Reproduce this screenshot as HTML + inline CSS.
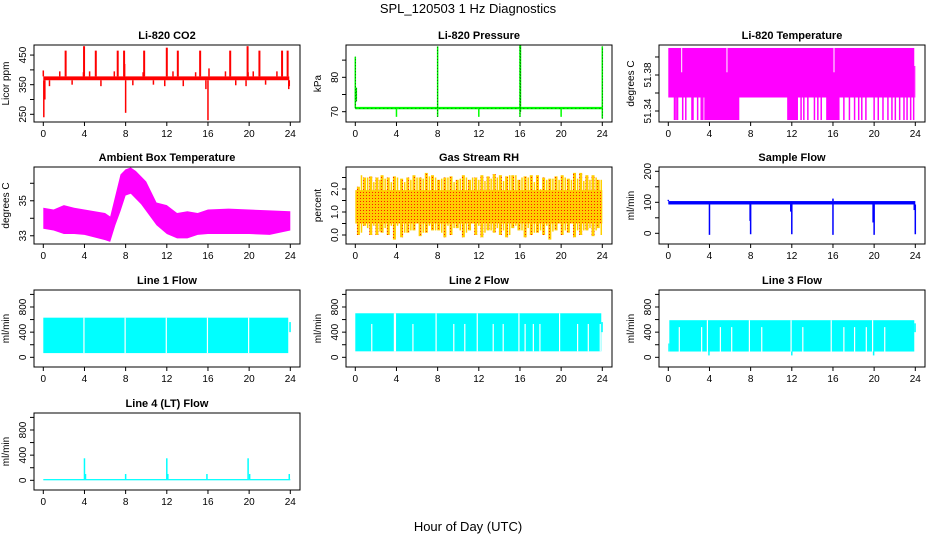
<!DOCTYPE html>
<html><head><meta charset="utf-8"><style>
body{margin:0;background:#fff}
svg text{font-family:"Liberation Sans",sans-serif;fill:#000}
</style></head><body>
<svg id="chart" width="936" height="540" viewBox="0 0 936 540" xmlns="http://www.w3.org/2000/svg">
<defs>
<pattern id="rhpat" width="3" height="3" patternUnits="userSpaceOnUse"><rect width="3" height="3" fill="#ffcc00"/><rect width="1" height="1" fill="#ff2000"/></pattern>
</defs>
<text x="468" y="13" font-size="13" text-anchor="middle">SPL_120503  1 Hz Diagnostics</text>
<text x="468" y="531" font-size="13" text-anchor="middle">Hour of Day (UTC)</text>
</svg>
<script>
// ---------- data ----------
const xTicks = [0,4,8,12,16,20,24];
// CO2
const co2BaseLo = 365, co2BaseHi = 378;
const co2UpHours = [2.17,3.96,5.1,7.23,7.85,9.8,12.0,13.07,15.24,18.16,19.85,21.0,23.2,23.74];
const co2UpVals  = [465,480,465,465,465,465,475,465,465,465,480,465,465,465];
const co2DownHours = [0.05,8.0,16.0,15.8,0.15];
const co2DownVals  = [240,255,230,335,300];
const co2SmallUpHours = [1.6,3.9,4.5,6.9,9.7,12.6,14.8,17.7,19.9,20.4,22.7,0.0,7.9,16.1];
const co2SmallUpVals = [395,392,395,395,392,395,392,395,392,395,395,398,420,405];
const co2SmallDnHours = [0.6,2.8,5.6,8.7,10.7,11.8,13.6,18.7,19.7,21.6,23.9,23.85];
const co2SmallDnVals = [345,350,345,348,350,345,345,348,345,350,345,335];
// Pressure
const presBase = 71;
const presSpikeHours = [0.0,0.1,8.0,16.0,16.05,24.0];
const presSpikeLo = [71,73,68.5,68.5,70,68];
const presSpikeHi = [86,77,89,89.5,89.5,89];
const presDipHours = [4.0,12.0,20.0];
const presDipVals = [68.5,68.5,68.5];
// Li-820 temperature
const ltBandLo = 51.355, ltBandHi = 51.41, ltFloor = 51.33;
const ltBlockStart = [3.5,15.34,11.55];
const ltBlockEnd = [6.9,16.64,12.6];
const ltBarHours = [0.6,0.75,0.9,1.4,1.7,2.3,2.4,2.85,3.2,3.35,12.9,13.17,13.56,14.2,14.53,14.86,17.06,17.6,18.1,18.5,18.8,19.2,20.0,20.4,20.86,21.34,21.73,22.06,22.48,22.9,23.2,23.55,23.84];
const ltGapHours = [1.3,5.7,16.1];
// Ambient box temperature
const ambHours = [0,1,2,3,4,5,6,6.5,7,7.5,8,8.5,9,9.5,10,10.5,11,12,13,14,15,16,18,20,22,24];
const ambHi = [34.6,34.5,34.75,34.6,34.5,34.4,34.3,34.1,35.3,36.5,36.8,36.9,36.7,36.4,36.1,35.5,34.9,34.75,34.3,34.4,34.3,34.5,34.55,34.5,34.45,34.4];
const ambLo = [33.4,33.3,33.1,33.1,33.05,32.9,32.75,32.65,33.6,34.4,35.3,35.4,35.1,34.8,34.4,34.0,33.6,33.1,32.85,32.85,33.05,33.1,33.1,33.1,33.05,33.3];
// Gas stream RH
const rhCoreLo = 0.5, rhCoreHi = 1.95;
const rhSpikeHours = [0.3,0.9,1.5,2.1,2.6,3.2,3.8,4.5,5.1,5.7,6.3,6.9,7.5,8.1,8.7,9.3,9.9,10.5,11.1,11.7,12.3,12.9,13.5,14.1,14.7,15.3,15.9,16.5,17.1,17.7,18.3,18.9,19.5,20.1,20.7,21.3,21.9,22.5,23.1,23.6];
const rhSpikeHi = [2.1,2.5,2.55,2.5,2.6,2.5,2.55,2.45,2.5,2.6,2.5,2.7,2.6,2.4,2.5,2.55,2.4,2.6,2.4,2.5,2.6,2.55,2.65,2.6,2.55,2.6,2.4,2.55,2.6,2.6,2.5,2.45,2.55,2.6,2.45,2.7,2.7,2.6,2.6,2.4];
const rhSpikeLo = [0.0,0.4,0.0,0.0,0.1,0.0,-0.2,-0.1,0.1,0.2,-0.05,0.1,0.2,0.2,-0.1,0.0,0.3,-0.1,0.2,0.0,-0.1,0.2,0.1,0.0,-0.1,0.3,0.2,-0.1,0.0,0.1,0.0,-0.2,0.2,0.0,0.1,-0.1,0.0,0.2,-0.05,0.3];
// Sample flow
const sfLo = 93, sfHi = 104;
const sfDipHours = [4.0,8.0,12.0,16.0,20.0,24.0,7.95,19.9,11.9,23.9];
const sfDipVals = [-5,-3,-3,-5,-5,-3,40,35,70,75];
const sfUpHours = [16.0,0.0];
const sfUpVals = [112,108];
// Line 1 flow
const l1Lo = 67, l1Hi = 630;
const l1GapHours = [3.9,7.9,11.9,15.9,19.9];
const l1GapTop = [630,630,630,630,630];
const l1EndLo = [400], l1EndHi = [560];
// Line 2 flow
const l2Lo = 95, l2Hi = 700;
const l2GapHours = [1.6,3.8,3.9,5.6,7.85,9.57,10.64,11.85,13.4,14.37,15.9,16.5,17.3,17.94,19.85,21.6,22.64,23.8];
const l2GapTop = [530,700,700,530,700,530,530,700,530,530,700,530,530,530,700,530,530,530];
// Line 3 flow
const l3Lo = 92, l3Hi = 590;
const l3GapHours = [1.07,3.24,3.8,5.06,6.16,7.88,9.08,11.93,13.07,15.83,17.06,18.1,19.24,19.85,21.03];
const l3GapTop = [480,480,590,480,480,590,480,590,480,590,480,480,480,590,480];
const l3DipHours = [3.95,12.0,19.95];
const l3DipVals = [30,30,30];
// Line 4 flow
const l4Lo = 0, l4Hi = 20;
const l4SpikeHours = [4.0,12.0,19.9,4.1,8.0,12.1,15.9,20.05,23.9];
const l4SpikeVals = [350,350,350,100,100,100,100,100,100];

// ---------- layout ----------
const NS = "http://www.w3.org/2000/svg";
const svg = document.getElementById('chart');
const colL = [34,346,659], rowT = [45,167,290,413], BW = 266, BH = 77;
function el(tag, attrs, parent){
  const e = document.createElementNS(NS, tag);
  for (const k in attrs) e.setAttribute(k, attrs[k]);
  (parent||svg).appendChild(e); return e;
}
function panel(name, col, row, title, ylab, ymin, ymax, ticks, labels, fmt){
  const L = colL[col], T = rowT[row];
  const g = el('g', {});
  
  
  const x = h => L + 9.3 + h * 247 / 24;
  const y = v => T + BH - (v - ymin) / (ymax - ymin) * BH;
  const plot = el('g', {}, g);
  
  
  const box = el('rect', {x:L, y:T, width:BW, height:BH, fill:'none', stroke:'#000', 'stroke-width':1}, g);
  
  
  const t = el('text', {x:L+BW/2, y:T-6, 'font-size':11, 'font-weight':'bold', 'text-anchor':'middle'}, g);
  t.textContent = title;
  
  
  const yl = el('text', {x:0, y:0, 'font-size':10, 'text-anchor':'middle', transform:`translate(${L-25},${T+BH/2}) rotate(-90)`}, g);
  yl.textContent = ylab;
  
  
  const xa = el('g', {}, g);
  
  
  el('line', {x1:x(0), x2:x(24), y1:T+BH, y2:T+BH, stroke:'#000'}, xa);
  xTicks.forEach(h => {
    el('line', {x1:x(h), x2:x(h), y1:T+BH, y2:T+BH+4, stroke:'#000'}, xa);
    const tl = el('text', {x:x(h), y:T+BH+15, 'font-size':10, 'text-anchor':'middle'}, xa);
    tl.textContent = h;
    
    
  });
  const ya = el('g', {}, g);
  
  
  ticks.forEach(v => {
    el('line', {x1:L-4, x2:L, y1:y(v), y2:y(v), stroke:'#000'}, ya);
  });
  labels.forEach(v => {
    const tl = el('text', {x:0, y:0, 'font-size':10, 'text-anchor':'middle', transform:`translate(${L-8},${y(v)}) rotate(-90)`}, ya);
    tl.textContent = fmt ? fmt(v) : v;
    
    
  });
  return {x, y, g: plot};
}
function seg(p, h, v1, v2, color, w){
  return el('line', {x1:p.x(h), x2:p.x(h), y1:p.y(v1), y2:p.y(v2), stroke:color, 'stroke-width':w||1}, p.g);
}
function rect(p, h1, h2, v1, v2, color){
  return el('rect', {x:p.x(h1), y:p.y(v2), width:p.x(h2)-p.x(h1), height:p.y(v1)-p.y(v2), fill:color}, p.g);
}

// CO2
let p = panel('co2', 0, 0, 'Li-820 CO2', 'Licor ppm', 224, 484, [250,300,350,400,450], [250,350,450]);
rect(p, 0, 23.9, co2BaseLo, co2BaseHi, '#ff0000');
co2UpHours.forEach((h,i)=>seg(p,h,co2BaseHi,co2UpVals[i],'#ff0000',2));
co2DownHours.forEach((h,i)=>seg(p,h,co2BaseLo,co2DownVals[i],'#ff0000',1.5));
co2SmallUpHours.forEach((h,i)=>seg(p,h,co2BaseHi,co2SmallUpVals[i],'#ff0000',1.5));
co2SmallDnHours.forEach((h,i)=>seg(p,h,co2BaseLo,co2SmallDnVals[i],'#ff0000',1.5));

// Pressure
p = panel('pressure', 1, 0, 'Li-820 Pressure', 'kPa', 67, 89.4, [70,75,80,85], [70,80]);
rect(p, 0, 24, presBase-0.3, presBase+0.4, '#00ff00');
el('line',{x1:p.x(0),x2:p.x(24),y1:p.y(presBase),y2:p.y(presBase),stroke:'#000','stroke-width':0.6,'stroke-dasharray':'1 3'},p.g);
presSpikeHours.forEach((h,i)=>{seg(p,h,presSpikeLo[i],presSpikeHi[i],'#00ff00',1.5);});
presSpikeHours.forEach((h,i)=>{el('line',{x1:p.x(h),x2:p.x(h),y1:p.y(presSpikeLo[i]),y2:p.y(presSpikeHi[i]),stroke:'#000','stroke-width':0.6,'stroke-dasharray':'1 2'},p.g);});
presDipHours.forEach((h,i)=>seg(p,h,presBase,presDipVals[i],'#00ff00',1.5));

// Li-820 temperature
p = panel('li820-temperature', 2, 0, 'Li-820 Temperature', 'degrees C', 51.3278, 51.4133, [51.34,51.36,51.38,51.40], [51.34,51.38], v=>v.toFixed(2));
rect(p, 0, 23.9, ltBandLo, ltBandHi, '#ff00ff');
rect(p, 23.9, 24, ltBandLo, 51.39, '#ff00ff');
ltBlockStart.forEach((s,i)=>rect(p, s, ltBlockEnd[i], ltFloor, ltBandLo, '#ff00ff'));
ltBarHours.forEach(h=>seg(p,h,ltFloor,ltBandLo,'#ff00ff',1.5));
ltGapHours.forEach(h=>seg(p,h,51.383,ltBandHi,'#ffffff',1));

// Ambient
p = panel('ambient-temperature', 0, 1, 'Ambient Box Temperature', 'degrees C', 32.53, 36.93, [33,34,35,36], [33,35]);
let pts = ambHours.map((h,i)=>p.x(h)+','+p.y(ambHi[i])).concat(ambHours.slice().reverse().map((h,j)=>{const i=ambHours.length-1-j;return p.x(h)+','+p.y(ambLo[i]);}));
el('polygon',{points:pts.join(' '),fill:'#ff00ff'},p.g);

// RH
p = panel('gas-stream-rh', 1, 1, 'Gas Stream RH', 'percent', -0.391, 2.957, [0,0.5,1,1.5,2,2.5], [0,1,2], v=>v.toFixed(1));
rhSpikeHours.forEach((h,i)=>seg(p,h,rhSpikeLo[i],rhSpikeHi[i],'url(#rhpat)',3));
rhSpikeHours.forEach((h,i)=>seg(p,h+0.3,rhSpikeLo[(i+7)%rhSpikeLo.length]+0.2,rhSpikeHi[(i+11)%rhSpikeHi.length]-0.1,'#ffd000',1.5));
rect(p, 0, 24, rhCoreLo, rhCoreHi, 'url(#rhpat)');

// Sample flow
p = panel('sample-flow', 2, 1, 'Sample Flow', 'ml/min', -34.5, 213.9, [0,50,100,150,200], [0,100,200]);
rect(p, 0, 24, sfLo, sfHi, '#0000ff');
sfDipHours.forEach((h,i)=>seg(p,h,sfLo,sfDipVals[i],'#0000ff',1.5));
sfUpHours.forEach((h,i)=>seg(p,h,sfHi,sfUpVals[i],'#0000ff',1.5));

// Line flows
const flowTicks = [0,200,400,600,800,1000], flowLabels = [0,400,800];
p = panel('line1-flow', 0, 2, 'Line 1 Flow', 'ml/min', -154, 1070, flowTicks, flowLabels);
rect(p, 0, 23.8, l1Lo, l1Hi, '#00ffff');
l1GapHours.forEach((h,i)=>seg(p,h+0.05,l1Lo,l1GapTop[i],'#ffffff',1.2));
rect(p, 23.9, 24.05, l1EndLo[0], l1EndHi[0], '#00ffff');

p = panel('line2-flow', 1, 2, 'Line 2 Flow', 'ml/min', -154, 1070, flowTicks, flowLabels);
rect(p, 0, 23.9, l2Lo, l2Hi, '#00ffff');
l2GapHours.forEach((h,i)=>seg(p,h,l2Lo,l2GapTop[i],'#ffffff',1.2));
rect(p, 23.9, 24.05, 400, 560, '#00ffff');

p = panel('line3-flow', 2, 2, 'Line 3 Flow', 'ml/min', -154, 1070, flowTicks, flowLabels);
rect(p, 0.1, 23.9, l3Lo, l3Hi, '#00ffff');
rect(p, 0, 0.1, 92, 220, '#00ffff');
l3GapHours.forEach((h,i)=>seg(p,h,l3Lo,l3GapTop[i],'#ffffff',1.2));
l3DipHours.forEach((h,i)=>seg(p,h,l3Lo,l3DipVals[i],'#00ffff',1.5));
rect(p, 23.9, 24.05, 400, 540, '#00ffff');

p = panel('line4-flow', 0, 3, 'Line 4 (LT) Flow', 'ml/min', -154, 1070, flowTicks, flowLabels);
rect(p, 0, 24, l4Lo, l4Hi, '#00ffff');
l4SpikeHours.forEach((h,i)=>seg(p,h,l4Hi,l4SpikeVals[i],'#00ffff',1.5));
</script>
</body></html>
